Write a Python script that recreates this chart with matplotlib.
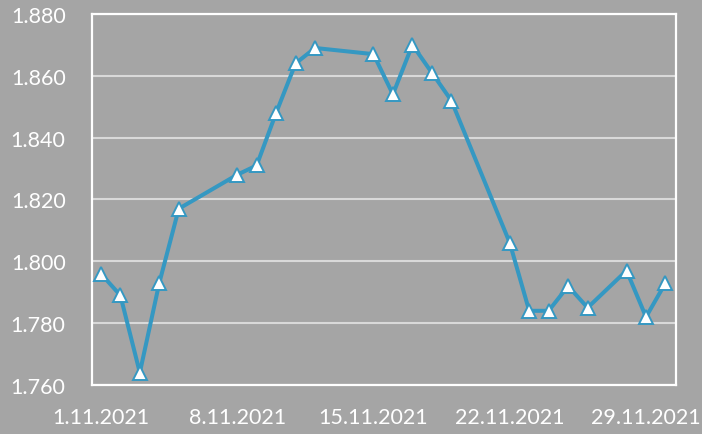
import matplotlib
matplotlib.use('Agg')
import matplotlib.pyplot as plt
import pandas as pd
from matplotlib.ticker import FormatStrFormatter

# data
dates = ['2021-11-01', '2021-11-02', '2021-11-03', '2021-11-04', '2021-11-05',
         '2021-11-08', '2021-11-09', '2021-11-10', '2021-11-11', '2021-11-12',
         '2021-11-15', '2021-11-16', '2021-11-17', '2021-11-18', '2021-11-19',
         '2021-11-22', '2021-11-23', '2021-11-24', '2021-11-25', '2021-11-26',
         '2021-11-28', '2021-11-29', '2021-11-30']
values = [1.796, 1.789, 1.764, 1.793, 1.817,
          1.828, 1.831, 1.848, 1.864, 1.869,
          1.867, 1.854, 1.870, 1.861, 1.852,
          1.806, 1.784, 1.784, 1.792, 1.785,
          1.797, 1.782, 1.793]
tick_dates = ['2021-11-01', '2021-11-08', '2021-11-15', '2021-11-22', '2021-11-29']
tick_labels = ['1.11.2021', '8.11.2021', '15.11.2021', '22.11.2021', '29.11.2021']

BG = '#a5a5a5'
LINE = '#3598c2'

plt.rcParams.update({
    'font.family': ['Lato', 'DejaVu Sans'],
    'font.size': 15.5,
})

x = pd.to_datetime(dates)
fig = plt.figure(figsize=(7.02, 4.35), dpi=100, facecolor=BG)
ax = fig.add_axes([0.131, 0.1126, 0.832, 0.853], facecolor=BG)

ax.plot(x, values, color=LINE, linewidth=2.9, marker='^', markersize=10,
        markerfacecolor='white', markeredgecolor=LINE, markeredgewidth=1.4,
        zorder=3)

ax.set_ylim(1.760, 1.880)
ax.set_yticks([1.760, 1.780, 1.800, 1.820, 1.840, 1.860, 1.880])
ax.yaxis.set_major_formatter(FormatStrFormatter('%.3f'))

ax.set_xlim(pd.Timestamp('2021-11-01') - pd.Timedelta(hours=11),
            pd.Timestamp('2021-11-29') + pd.Timedelta(hours=37))
ax.set_xticks(pd.to_datetime(tick_dates))
ax.set_xticklabels(tick_labels)

ax.grid(True, axis='y', color='#d9d9d9', linewidth=1.5, zorder=1)
ax.set_axisbelow(True)
for s in ax.spines.values():
    s.set_color('white')
    s.set_linewidth(1.6)
ax.tick_params(axis='both', length=0, colors='white')
ax.tick_params(axis='y', pad=19)
ax.tick_params(axis='x', pad=16)

fig.savefig('out.png', dpi=100, facecolor=BG)
